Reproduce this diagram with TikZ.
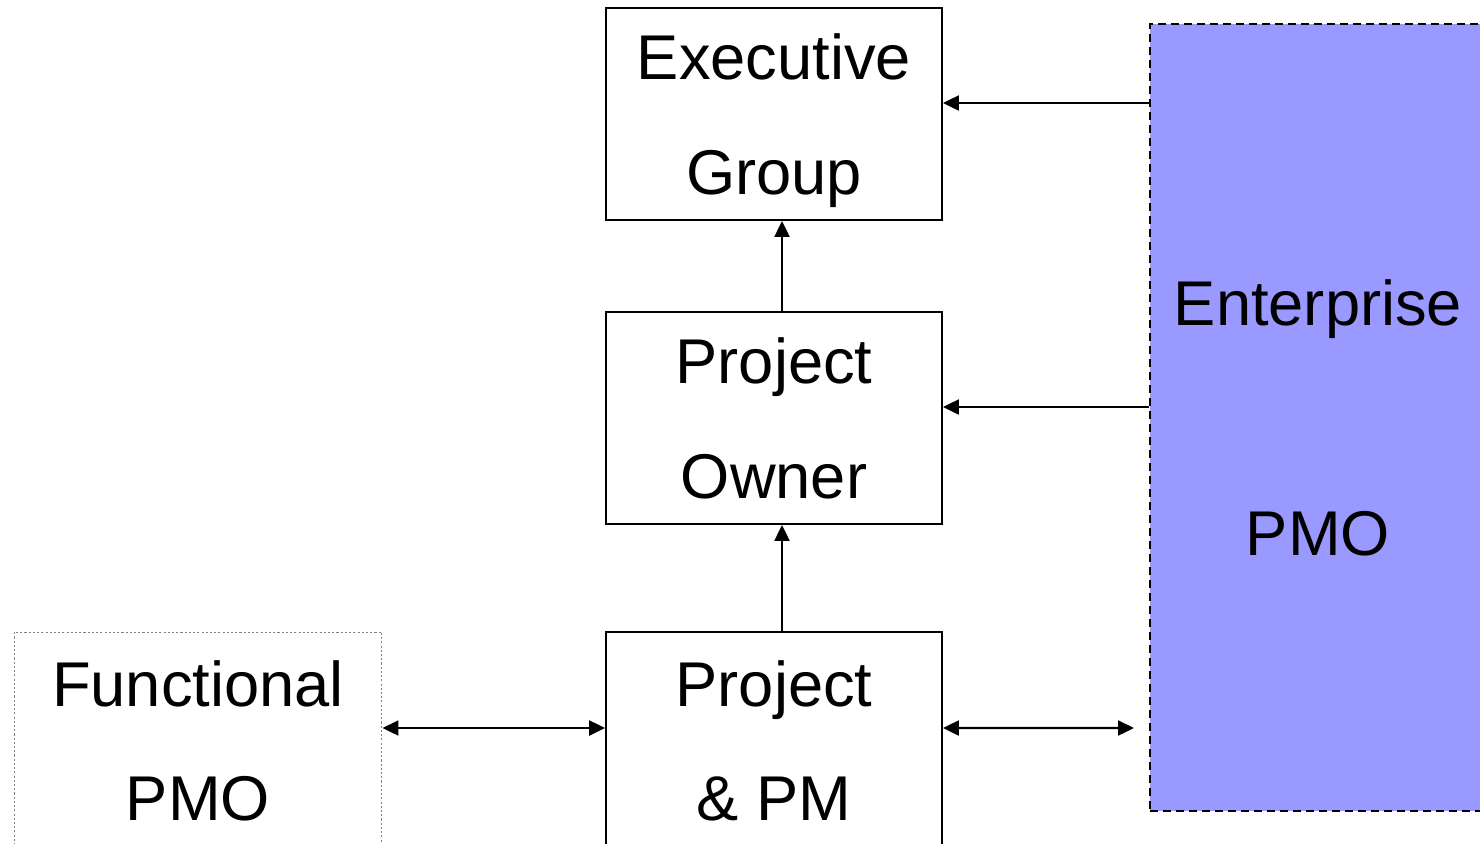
\documentclass[tikz,border=0pt]{standalone}
\usepackage{fontspec}
\setmainfont{Liberation Sans}
\usetikzlibrary{arrows.meta}
\definecolor{entblue}{HTML}{9999FF}
\tikzset{
  orgbox/.style={draw, line width=1.1pt, minimum width=6.72cm, minimum height=4.24cm,
    align=center, inner sep=0pt, text depth=0pt, font=\fontsize{36}{65}\selectfont},
  arr/.style={line width=1.3pt, -{Triangle[length=0.32cm,width=0.3cm]}},
  dblarr/.style={line width=1.3pt, {Triangle[length=0.32cm,width=0.3cm]}-{Triangle[length=0.32cm,width=0.3cm]}}
}
\begin{document}
\begin{tikzpicture}[x=0.02cm,y=-0.02cm]
        \useasboundingbox (0,0) rectangle (1480,843);
        % Boxes
        \node[orgbox] (exec) at (774,114) {Executive\\Group};
        \node[orgbox] (owner) at (774,418) {Project\\Owner};
        \node[orgbox, minimum height=4.34cm] (pm) at (774,740.5) {Project\\\& PM};
        \node[orgbox, draw=gray, line width=0.6pt, dash pattern=on 1.2pt off 1.2pt,
          minimum width=7.36cm, minimum height=4.34cm] (func) at (198,740.5) {Functional\\PMO};
        \node[orgbox, fill=entblue, dash pattern=on 0.16cm off 0.1cm,
          minimum height=15.74cm] (ent) at (1318,417.5) {Enterprise\\[2.3cm]PMO};
        \coordinate (pmend) at (1134,728);
        % Arrows
        \draw[arr] ([yshift=0.22cm]ent.west |- exec.east) -- ([yshift=0.22cm]exec.east);
        \draw[arr] ([yshift=0.22cm]ent.west |- owner.east) -- ([yshift=0.22cm]owner.east);
        \draw[arr] ([xshift=0.16cm]owner.north) -- ([xshift=0.16cm]exec.south);
        \draw[arr] ([xshift=0.16cm]pm.north) -- ([xshift=0.16cm]owner.south);
        \draw[dblarr] ([yshift=0.25cm]func.east) -- ([yshift=0.25cm]pm.west);
        \draw[dblarr] ([yshift=0.25cm]pm.east) -- (pmend);
\end{tikzpicture}
\end{document}
